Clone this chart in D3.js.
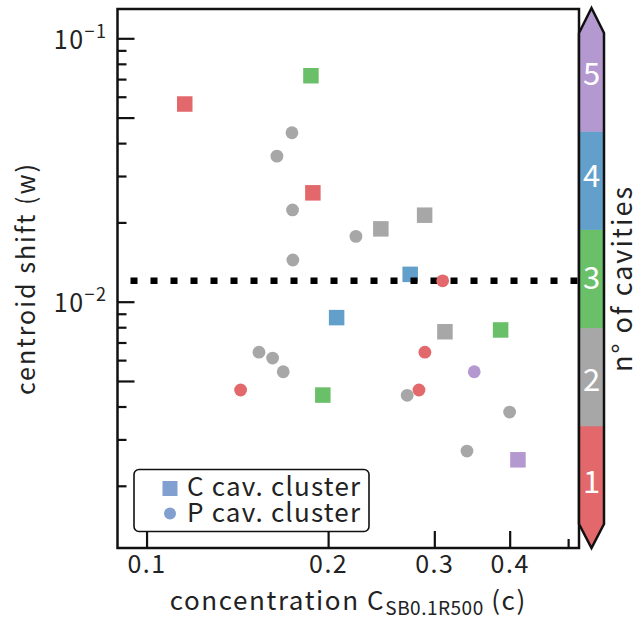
<!DOCTYPE html>
<html>
<head>
<meta charset="utf-8">
<script src="https://cdn.jsdelivr.net/npm/d3@7"></script>
<style>
  body { margin: 0; background: #fff; }
  svg text { font-family: "Noto Sans CJK JP", "Noto Sans", sans-serif; fill: #222; }
</style>
</head>
<body>
<div id="chart"></div>
<script>
// C cavity cluster (squares)
var cConc  = [0.1157, 0.1873, 0.1887, 0.2446, 0.2891, 0.2736, 0.2066, 0.1960, 0.3124, 0.3864, 0.4128];
var cShift = [0.0563, 0.0721, 0.0259, 0.0189, 0.0213, 0.0127, 0.0087, 0.00442, 0.00769, 0.00781, 0.00251];
var cCav   = [1, 3, 1, 2, 2, 4, 4, 3, 2, 3, 5];

// P cavity cluster (circles)
var pConc  = [0.1742, 0.1645, 0.1746, 0.1748, 0.2224, 0.3097, 0.1536, 0.1618, 0.1685, 0.1432, 0.2894, 0.3494, 0.2829, 0.2705, 0.3999, 0.3398];
var pShift = [0.0438, 0.0357, 0.0223, 0.0144, 0.0177, 0.0120, 0.00643, 0.00611, 0.00542, 0.00462, 0.00643, 0.00542, 0.00462, 0.00441, 0.00381, 0.00271];
var pCav   = [2, 2, 2, 2, 2, 1, 2, 2, 2, 1, 1, 5, 1, 2, 2, 2];

var threshold = 0.012;
var cavities = [1, 2, 3, 4, 5];
var cavColors = ["#e3686b", "#a7a7a7", "#6abf69", "#62a0cb", "#b498d0"];
var xTicks = [0.1, 0.2, 0.3, 0.4];
var xMinor = [0.5];

var svgWidth = 639;
var svgHeight = 619;
var plotL = 117.5, plotR = 579, plotT = 9, plotB = 548;

var svg = d3.select("#chart")
  .append("svg")
  .attr("width", svgWidth)
  .attr("height", svgHeight);

var x = d3.scaleLog().domain([0.0895, 0.5212]).range([plotL, plotR]);
var y = d3.scaleLog().domain([0.001161, 0.1292]).range([plotB, plotT]);
var color = d3.scaleOrdinal().domain(cavities).range(cavColors);

var cData = cConc.map(function(d, i) { return {c: d, w: cShift[i], n: cCav[i]}; });
var pData = pConc.map(function(d, i) { return {c: d, w: pShift[i], n: pCav[i]}; });

// squares
var sq = 15.5;
svg.append("g").selectAll("rect")
  .data(cData)
  .enter()
  .append("rect")
  .attr("x", d => x(d.c) - sq / 2)
  .attr("y", d => y(d.w) - sq / 2)
  .attr("width", sq)
  .attr("height", sq)
  .attr("fill", d => color(d.n));

// threshold line
svg.append("line")
  .attr("x1", plotL)
  .attr("x2", plotR)
  .attr("y1", y(threshold))
  .attr("y2", y(threshold))
  .attr("stroke", "#000")
  .attr("stroke-width", 6.5)
  .attr("stroke-dasharray", "7,13")
  .attr("stroke-dashoffset", 7);

// circles
svg.append("g").selectAll("circle")
  .data(pData)
  .enter()
  .append("circle")
  .attr("cx", d => x(d.c))
  .attr("cy", d => y(d.w))
  .attr("r", 6.4)
  .attr("fill", d => color(d.n));

// y axis ticks (inward)
var yLabeled = [0.1, 0.01];
var yLong = [0.05, 0.005];
var yShort = [];
[0.001, 0.01].forEach(function(dec) {
  [2, 3, 4, 6, 7, 8, 9].forEach(function(m) { yShort.push(dec * m); });
});

svg.append("g")
  .attr("transform", `translate(${plotL},0)`)
  .call(d3.axisLeft(y).tickValues(yShort).tickSize(-9).tickFormat(""))
  .call(g => g.select(".domain").remove());

svg.append("g")
  .attr("transform", `translate(${plotL},0)`)
  .call(d3.axisLeft(y).tickValues(yLong).tickSize(-17).tickFormat(""))
  .call(g => g.select(".domain").remove());

var yMajor = svg.append("g")
  .attr("transform", `translate(${plotL},0)`)
  .call(d3.axisLeft(y).tickValues(yLabeled).tickSize(-17).tickFormat(""))
  .call(g => g.select(".domain").remove());

yMajor.selectAll(".tick").each(function(d) {
  var t = d3.select(this).select("text")
    .attr("x", -10)
    .attr("dy", null)
    .attr("y", 10)
    .attr("font-size", 25)
    .attr("letter-spacing", 1.5)
    .attr("text-anchor", "end");
  t.append("tspan").text("10");
  t.append("tspan").attr("dy", -11).attr("font-size", 18).text("\u2212" + Math.round(-Math.log10(d)));
});

// x axis ticks (inward)
var xAx = svg.append("g")
  .attr("transform", `translate(0,${plotB})`)
  .call(d3.axisBottom(x).tickValues(xTicks).tickSize(-17).tickPadding(4).tickFormat(d3.format(".1f")))
  .call(g => g.select(".domain").remove());
xAx.selectAll("text").attr("font-size", 25).attr("letter-spacing", 1.5).attr("dy", "0.85em");

svg.append("g")
  .attr("transform", `translate(0,${plotB})`)
  .call(d3.axisBottom(x).tickValues(xMinor).tickSize(-9).tickFormat(""))
  .call(g => g.select(".domain").remove());

svg.selectAll(".tick line").attr("stroke", "#111").attr("stroke-width", 2.2);

// frame
svg.append("rect")
  .attr("x", plotL)
  .attr("y", plotT)
  .attr("width", plotR - plotL)
  .attr("height", plotB - plotT)
  .attr("fill", "none")
  .attr("stroke", "#111")
  .attr("stroke-width", 2.5);

// legend
var lg = svg.append("g");
lg.append("rect")
  .attr("x", 134).attr("y", 469.5)
  .attr("width", 235).attr("height", 62)
  .attr("rx", 5)
  .attr("fill", "#fff")
  .attr("stroke", "#111")
  .attr("stroke-width", 1.6);
lg.append("rect")
  .attr("x", 162.5).attr("y", 481)
  .attr("width", 15).attr("height", 15)
  .attr("fill", "#819fcf");
lg.append("circle")
  .attr("cx", 170).attr("cy", 513.5)
  .attr("r", 6)
  .attr("fill", "#819fcf");
lg.append("text").attr("x", 187).attr("y", 496).attr("font-size", 26).attr("letter-spacing", 1.2).text("C cav. cluster");
lg.append("text").attr("x", 187).attr("y", 522).attr("font-size", 26).attr("letter-spacing", 1.2).text("P cav. cluster");

// axis labels
svg.append("text")
  .attr("transform", `translate(35, ${(plotT + plotB) / 2}) rotate(-90)`)
  .attr("text-anchor", "middle")
  .attr("font-size", 25)
  .attr("letter-spacing", 2)
  .text("centroid shift (w)");

var xl = svg.append("text")
  .attr("x", (plotL + plotR) / 2)
  .attr("y", 610)
  .attr("text-anchor", "middle")
  .attr("font-size", 26)
  .attr("letter-spacing", 1.6);
xl.append("tspan").text("concentration C");
xl.append("tspan").attr("font-size", 19).attr("letter-spacing", 0.5).attr("dy", 5).text("SB0.1R500");
xl.append("tspan").attr("dy", -5).text(" (c)");

// colorbar
var cbL = 579, cbR = 604, cbTop = 33, cbBot = 524, cbTipT = 8, cbTipB = 548;
var cb = d3.scaleLinear().domain([0.5, 5.5]).range([cbBot, cbTop]);
var cbMid = (cbL + cbR) / 2;

svg.append("g").selectAll("rect")
  .data(cavities)
  .enter()
  .append("rect")
  .attr("x", cbL)
  .attr("y", d => cb(d + 0.5))
  .attr("width", cbR - cbL)
  .attr("height", d => cb(d - 0.5) - cb(d + 0.5) + 0.5)
  .attr("fill", d => color(d));

svg.append("path")
  .attr("d", `M${cbL},${cbTop}L${cbMid},${cbTipT}L${cbR},${cbTop}Z`)
  .attr("fill", color(5));
svg.append("path")
  .attr("d", `M${cbL},${cbBot}L${cbMid},${cbTipB}L${cbR},${cbBot}Z`)
  .attr("fill", color(1));

svg.append("path")
  .attr("d", `M${cbL},${cbTop}L${cbMid},${cbTipT}L${cbR},${cbTop}L${cbR},${cbBot}L${cbMid},${cbTipB}L${cbL},${cbBot}Z`)
  .attr("fill", "none")
  .attr("stroke", "#111")
  .attr("stroke-width", 2.5);

var cbLab = d3.scaleLinear().domain([1, 5]).range([482, 74]);
svg.append("g").selectAll("text")
  .data(cavities)
  .enter()
  .append("text")
  .attr("x", cbMid)
  .attr("y", d => cbLab(d) + 11)
  .attr("text-anchor", "middle")
  .attr("font-size", 31)
  .style("fill", "#fff")
  .text(d => d);

svg.append("text")
  .attr("transform", `translate(632, ${(cbTop + cbBot) / 2}) rotate(-90)`)
  .attr("text-anchor", "middle")
  .attr("font-size", 27)
  .attr("letter-spacing", 2)
  .text("n\u00b0 of cavities");
</script>
</body>
</html>
